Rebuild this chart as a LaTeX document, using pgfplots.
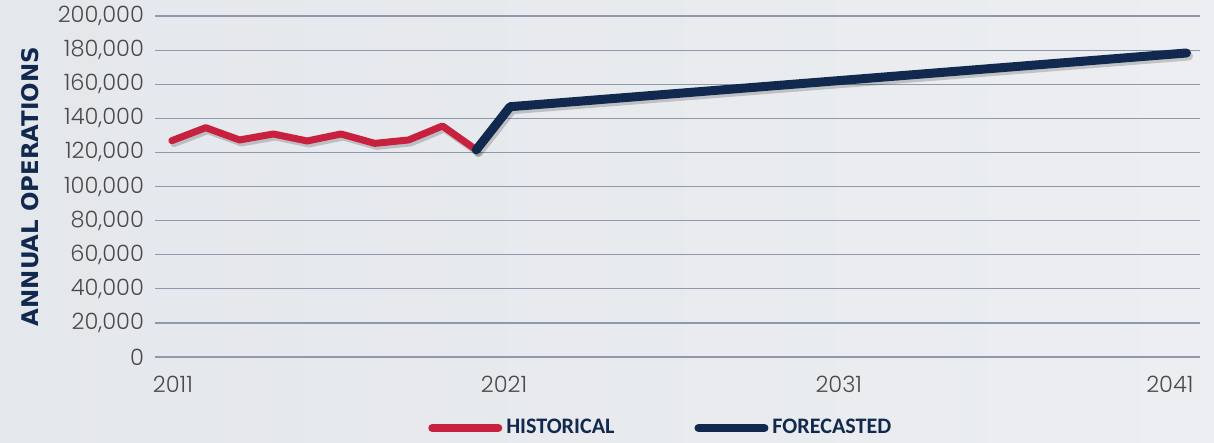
\documentclass[border=0pt]{standalone}
\usepackage{fontspec}
\setmainfont{Poppins Light}
\newfontfamily\legfont{Carlito}
\newfontfamily\labfont{DejaVu Sans}
\usepackage{pgfplots}
\pgfplotsset{compat=1.18}
\definecolor{navy}{HTML}{12294F}
\definecolor{histred}{HTML}{C8203F}
\definecolor{gridc}{HTML}{8E9AAC}
\definecolor{tickc}{HTML}{4A4A4A}
\definecolor{bgl}{HTML}{E4E7EB}
\definecolor{bgr}{HTML}{ECEEF1}
\begin{document}
\begin{tikzpicture}
\shade[left color=bgl, right color=bgr] (0,0) rectangle (607bp,221.5bp);
\useasboundingbox (0,0) rectangle (607bp,221.5bp);
\begin{axis}[
  at={(77.5bp,43bp)}, anchor=south west,
  width=522.5bp, height=170.5bp, scale only axis,
  xmin=2010.5, xmax=2041.4, ymin=0, ymax=200000,
  ytick distance=20000,
  xtick={2011.03,2020.82,2030.72,2040.51}, xticklabels={2011,2021,2031,2041},
  ymajorgrids, grid style={gridc, line width=0.6bp},
  axis line style={draw=none}, major tick length=0,
  tick label style={font=\fontsize{11.3}{13}\selectfont, text=tickc},
  xticklabel style={yshift=-6bp},
  yticklabel style={xshift=-2bp},
  scaled y ticks=false,
  y tick label style={/pgf/number format/.cd, fixed, 1000 sep={,}, assume math mode=true},
  ylabel={ANNUAL OPERATIONS},
  every axis y label/.style={at={(axis description cs:-0.1196,0.5)}, rotate=90, anchor=center,
     font=\labfont\bfseries\fontsize{11.5}{13}\selectfont, text=navy},
  legend columns=2,
  legend style={at={(0.485,-0.208)}, anchor=center, draw=none, fill=none,
     font=\legfont\bfseries\fontsize{11.1}{13}\selectfont, text=navy,
     /tikz/every even column/.append style={column sep=38bp}},
  legend image code/.code={\draw[#1, line width=4bp, line cap=round] (0bp,0bp) -- (33bp,0bp);},
]
\addplot[forget plot, draw=black, opacity=0.18, line width=3.5bp, line join=round, line cap=round,
  transform canvas={shift={(1bp,-1.5bp)}}] coordinates {
 (2011,126900)(2012,134500)(2013,127300)(2014,130800)(2015,126700)
 (2016,130800)(2017,125300)(2018,127300)(2019,135500)(2020,121500)};
\addplot[forget plot, draw=black, opacity=0.18, line width=4.5bp, line join=round, line cap=round,
  transform canvas={shift={(1bp,-1.5bp)}}] coordinates {
 (2020,121500)(2021,146800)(2041,178300)};
\addplot[histred, line width=3.5bp, line join=round, line cap=round] coordinates {
 (2011,126900)(2012,134500)(2013,127300)(2014,130800)(2015,126700)
 (2016,130800)(2017,125300)(2018,127300)(2019,135500)(2020,121500)};
\addlegendentry{HISTORICAL}
\addplot[navy, line width=4.5bp, line join=round, line cap=round] coordinates {
 (2020,121500)(2021,146800)(2041,178300)};
\addlegendentry{FORECASTED}
\end{axis}
\end{tikzpicture}
\end{document}
